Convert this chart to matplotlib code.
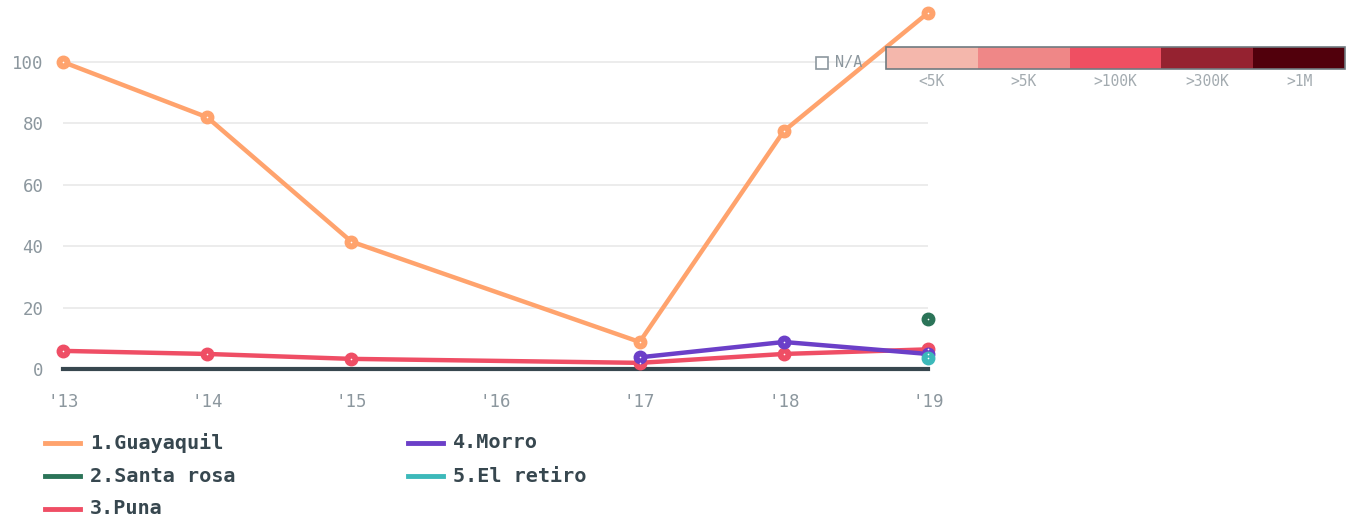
import matplotlib
matplotlib.use("Agg")
import matplotlib.pyplot as plt
import numpy as np
from matplotlib.patches import Rectangle
from matplotlib.lines import Line2D

years = ["'13", "'14", "'15", "'16", "'17", "'18", "'19"]
guayaquil = [100, 82, 41.5, None, 8.8, 77.5, 116]
santa_rosa = [None, None, None, None, None, None, 16.2]
puna = [5.9, 4.9, 3.3, None, 2.0, 4.9, 6.4]
morro = [None, None, None, None, 3.8, 8.8, 4.9]
el_retiro = [None, None, None, None, None, None, 3.5]

series_names = ["1.Guayaquil", "2.Santa rosa", "3.Puna", "4.Morro", "5.El retiro"]
series_values = [guayaquil, santa_rosa, puna, morro, el_retiro]
series_colors = ["#ffa36d", "#2b7458", "#ef4e65", "#6b3fc8", "#3cb9ba"]
draw_order = [4, 1, 3, 0, 2]

scale_labels = ["<5K", ">5K", ">100K", ">300K", ">1M"]
scale_colors = ["#f4b7ac", "#ef8787", "#ef4f62", "#952230", "#51000c"]

W, H = 1353, 521
fig = plt.figure(figsize=(W / 100, H / 100), dpi=100)
x0, x1 = 63, 928
ytop, ybot = 0, 369
ax = fig.add_axes([x0 / W, 1 - ybot / H, (x1 - x0) / W, (ybot - ytop) / H])
ymax = 369 / 3.07
ax.set_ylim(0, ymax)
ax.set_xlim(0, len(years) - 1)

for s in ax.spines.values():
    s.set_visible(False)
ax.set_yticks([0, 20, 40, 60, 80, 100])
ax.set_xticks(range(len(years)))
ax.set_xticklabels(years)
ax.tick_params(length=0, labelsize=12.5, labelcolor="#8c979e")
ax.tick_params(axis="y", pad=14)
ax.tick_params(axis="x", pad=17)
for lbl in ax.get_xticklabels() + ax.get_yticklabels():
    lbl.set_family("DejaVu Sans Mono")
for v in [20, 40, 60, 80, 100]:
    ax.axhline(v, color="#e9e9e9", lw=1.2, zorder=0)
ax.axhline(0, color="#37474f", lw=3, zorder=1, clip_on=False)

xs = np.arange(len(years))
for i in draw_order:
    vals = np.array([np.nan if v is None else v for v in series_values[i]], dtype=float)
    m = ~np.isnan(vals)
    c = series_colors[i]
    ax.plot(xs[m], vals[m], color=c, lw=3.2, solid_capstyle="round", zorder=3 + i * 0.1, clip_on=False)
    ax.plot(xs[m], vals[m], "o", color=c, ms=9, zorder=3.5 + i * 0.1, clip_on=False)
    ax.plot(xs[m], vals[m], "o", color="white", ms=1.2, mew=0, zorder=3.6 + i * 0.1, clip_on=False)

# legend (column-first, 3 rows)
col_x = [45, 408]
row_y = [443, 476, 509]
for k, (name, c) in enumerate(zip(series_names, series_colors)):
    col, row = k // 3, k % 3
    lx, ly = col_x[col], row_y[row]
    fig.lines.append(Line2D([lx / W, (lx + 35) / W], [1 - ly / H, 1 - ly / H],
                            transform=fig.transFigure, color=c, lw=3.5))
    fig.text((lx + 45) / W, 1 - ly / H, name, ha="left", va="center", color="#37474f",
             fontsize=14.5, fontweight="bold", family="DejaVu Sans Mono")

# color scale legend
bx0, bx1, by0, by1 = 886, 1345, 47, 69
bw = (bx1 - bx0) / len(scale_colors)
for k, (c, lab) in enumerate(zip(scale_colors, scale_labels)):
    fig.patches.append(Rectangle(((bx0 + k * bw) / W, 1 - by1 / H), bw / W, (by1 - by0) / H,
                                 transform=fig.transFigure, facecolor=c, edgecolor="none"))
    fig.text((bx0 + (k + 0.5) * bw) / W, 1 - 82 / H, lab, ha="center", va="center",
             color="#a3abb0", fontsize=10.5, family="DejaVu Sans Mono")
fig.patches.append(Rectangle((bx0 / W, 1 - by1 / H), (bx1 - bx0) / W, (by1 - by0) / H,
                             transform=fig.transFigure, facecolor="none",
                             edgecolor="#707a80", lw=1.2))
fig.patches.append(Rectangle((816 / W, 1 - 69 / H), 12 / W, 12 / H,
                             transform=fig.transFigure, facecolor="white",
                             edgecolor="#8c979e", lw=1.2))
fig.text(835 / W, 1 - 63 / H, "N/A", ha="left", va="center", color="#8c979e",
         fontsize=11, family="DejaVu Sans Mono")

fig.savefig("out.png", dpi=100)
